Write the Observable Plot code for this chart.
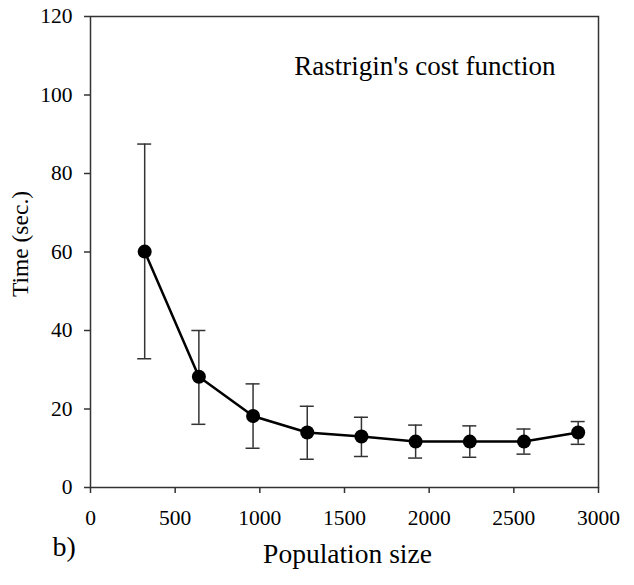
<!DOCTYPE html>
<html>
<head>
<meta charset="utf-8">
<script src="https://cdn.jsdelivr.net/npm/d3@7"></script>
<script src="https://cdn.jsdelivr.net/npm/@observablehq/plot@0.6"></script>
<style>
  html, body { margin: 0; padding: 0; background: #fff; }
  svg, svg text { font-family: "Liberation Serif", "Times New Roman", serif !important; }
</style>
</head>
<body>
<div id="chart"></div>
<script>
const populationSize = [320, 640, 960, 1280, 1600, 1920, 2240, 2560, 2880];
const meanTime = [60.1, 28.2, 18.2, 14.0, 13.0, 11.7, 11.7, 11.7, 14.0];
const errLow  = [32.8, 16.1, 10.0, 7.2, 7.9, 7.5, 7.7, 8.5, 11.0];
const errHigh = [87.5, 40.0, 26.4, 20.7, 17.9, 15.9, 15.7, 14.9, 16.8];
const xTicks = [0, 500, 1000, 1500, 2000, 2500, 3000];
const yTicks = [0, 20, 40, 60, 80, 100, 120];
const xLabel = "Population size";
const yLabel = "Time (sec.)";
const title = "Rastrigin's cost function";
const panel = "b)";

const data = populationSize.map((x, i) => ({x, y: meanTime[i], lo: errLow[i], hi: errHigh[i]}));
const axisColor = "#333";
const ff = "Liberation Serif";

const chart = Plot.plot({
  width: 634,
  height: 585,
  marginLeft: 90,
  marginRight: 36,
  marginTop: 16,
  marginBottom: 98,
  style: {background: "#fff", color: "#000"},
  x: {domain: [0, 3000]},
  y: {domain: [0, 120]},
  marks: [
    Plot.frame({stroke: axisColor, strokeWidth: 1.5}),
    Plot.axisX({ticks: xTicks, tickFormat: d => String(d), tickSize: 6, tickPadding: 16, fontSize: 21.5, fontFamily: ff, label: null, stroke: axisColor, strokeWidth: 1.5, fill: "#000"}),
    Plot.axisY({ticks: yTicks, tickFormat: d => String(d), tickSize: 6, tickPadding: 12, fontSize: 21.5, fontFamily: ff, label: null, stroke: axisColor, strokeWidth: 1.5, fill: "#000"}),
    Plot.ruleX(data, {x: "x", y1: "lo", y2: "hi", stroke: axisColor, strokeWidth: 1.5}),
    Plot.ruleY(data, {x1: "x", x2: "x", y: "hi", insetLeft: -7, insetRight: -7, stroke: axisColor, strokeWidth: 1.5}),
    Plot.ruleY(data, {x1: "x", x2: "x", y: "lo", insetLeft: -7, insetRight: -7, stroke: axisColor, strokeWidth: 1.5}),
    Plot.line(data, {x: "x", y: "y", stroke: "#000", strokeWidth: 2.5}),
    Plot.dot(data, {x: "x", y: "y", r: 7, fill: "#000", stroke: "none"}),
    Plot.text([title], {frameAnchor: "top-right", textAnchor: "end", dx: -43, dy: 39, fontSize: 27, fontFamily: ff, fill: "#000"}),
    Plot.text([xLabel], {frameAnchor: "bottom", textAnchor: "middle", dx: 3, dy: 75, fontSize: 27.5, fontFamily: ff, fill: "#000"}),
    Plot.text([yLabel], {frameAnchor: "left", textAnchor: "middle", rotate: -90, dx: -70, dy: -8, fontSize: 23.5, fontFamily: ff, fill: "#000"}),
    Plot.text([panel], {frameAnchor: "bottom-left", textAnchor: "start", dx: -38, dy: 68, fontSize: 28, fontFamily: ff, fill: "#000"})
  ]
});
document.getElementById("chart").appendChild(chart);
</script>
</body>
</html>
